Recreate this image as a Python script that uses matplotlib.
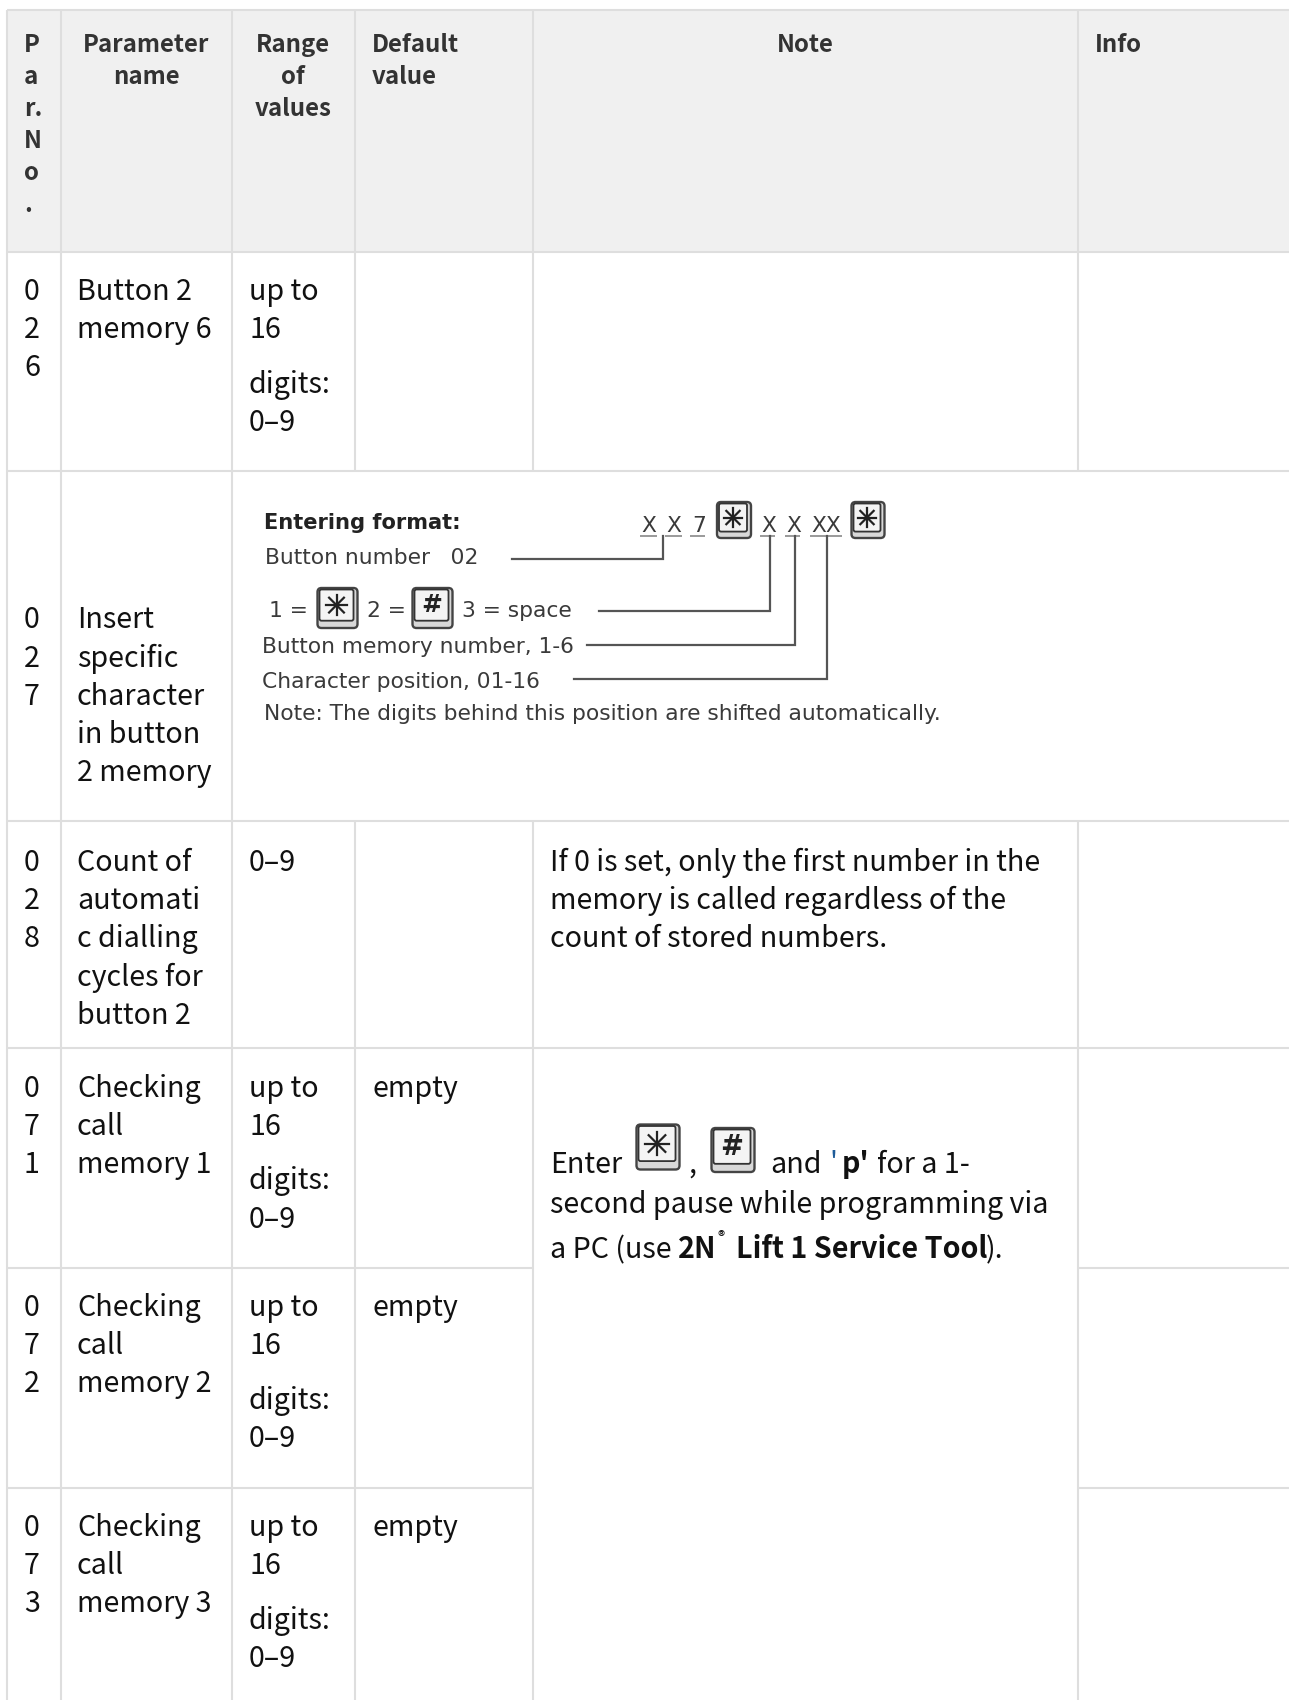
import matplotlib
matplotlib.use("Agg")
import matplotlib.pyplot as plt
from matplotlib.patches import FancyBboxPatch, Rectangle

BODY_FONT = ["Noto Sans CJK JP", "DejaVu Sans"]
IMG_FONT = ["DejaVu Sans"]
GRID = "#dedede"
HEAD_BG = "#f0f0f0"
HEAD_TXT = "#333333"
BODY_TXT = "#111111"
IMG_TXT = "#3a3a3a"
BODY_SIZE = 20.65
HEAD_SIZE = 17.3

# header cells
header_par = ["P", "a", "r.", "N", "o", "."]
header_name = ["Parameter", "name"]
header_range = ["Range", "of", "values"]
header_default = ["Default", "value"]
header_note = ["Note"]
header_info = ["Info"]

# first column of the rows, broken the way the narrow column breaks it
par_numbers = [["0", "2", "6"], ["0", "2", "7"], ["0", "2", "8"],
               ["0", "7", "1"], ["0", "7", "2"], ["0", "7", "3"]]
par_names = [["Button 2", "memory 6"],
             ["Insert", "specific", "character", "in button", "2 memory"],
             ["Count of", "automati", "c dialling", "cycles for", "button 2"],
             ["Checking", "call", "memory 1"],
             ["Checking", "call", "memory 2"],
             ["Checking", "call", "memory 3"]]
range_top = [["up to", "16"], [], ["0–9"], ["up to", "16"], ["up to", "16"], ["up to", "16"]]
range_bottom = [["digits:", "0–9"], [], [], ["digits:", "0–9"], ["digits:", "0–9"], ["digits:", "0–9"]]
default_values = ["", "", "", "empty", "empty", "empty"]
note_028 = ["If 0 is set, only the first number in the",
            "memory is called regardless of the",
            "count of stored numbers."]

# row layout
row_edges = [10, 251.5, 471, 821, 1048, 1268, 1488, 1700]
row_first_base = [300, 628.5, 871, 1097, 1316, 1536]
col_edges = [7, 60.5, 232, 354.5, 533, 1077.5, 1289]
col_text_x = [24, 77, 249, 372, 550, 1095]


def txt(ax, x, y, s, size=BODY_SIZE, color=BODY_TXT, weight="normal", ha="left", fam=BODY_FONT):
    ax.text(x, y, s, fontsize=size, color=color, fontweight=weight, ha=ha, va="baseline", family=fam)


def hline(ax, x0, x1, y, color=GRID, lw=1.5):
    ax.plot([x0, x1], [y, y], color=color, lw=lw, solid_capstyle="butt")


def vline(ax, x, y0, y1, color=GRID, lw=1.5):
    ax.plot([x, x], [y0, y1], color=color, lw=lw, solid_capstyle="butt")


def draw_key(ax, cx, cy, w, h, glyph):
    # keypad button picture: shadow body, inner face, glyph
    ax.add_patch(FancyBboxPatch((cx - w / 2, cy - h / 2), w, h, boxstyle="round,pad=0,rounding_size=4",
                                fc="#d8d8d8", ec="#444444", lw=1.7))
    fh = h * 0.78
    ax.add_patch(FancyBboxPatch((cx - w / 2 + 2, cy - h / 2 + 1.5), w - 6, fh, boxstyle="round,pad=0,rounding_size=2",
                                fc="#f4f4f4", ec="#333333", lw=1.3))
    gx = cx - 1
    gy = cy - h / 2 + 1.5 + fh / 2
    r = min(w, fh) * 0.33
    if glyph == "*":
        lw = 1.6
        ax.plot([gx - r, gx + r], [gy, gy], color="#222222", lw=lw)
        ax.plot([gx, gx], [gy - r, gy + r], color="#222222", lw=lw)
        ax.plot([gx - r * .72, gx + r * .72], [gy - r * .72, gy + r * .72], color="#222222", lw=lw)
        ax.plot([gx - r * .72, gx + r * .72], [gy + r * .72, gy - r * .72], color="#222222", lw=lw)
    else:
        ax.text(gx, gy, "#", fontsize=h * 0.45, fontweight="bold", color="#222222", ha="center", va="center",
                family="DejaVu Sans")


def draw_format_picture(ax):
    # the scanned "Entering format" picture inside row 027
    size = 15.7
    txt(ax, 264, 529, "Entering format:", size=15.1, color="#222222", weight="bold", fam=IMG_FONT)
    for x, s in [(641, "X"), (666, "X"), (692, "7"), (761, "X"), (786, "X"), (811, "XX")]:
        txt(ax, x, 532, s, size=size, color=IMG_TXT, fam=IMG_FONT)
    for x0, x1 in [(640, 657), (665, 682), (690, 705), (760, 775), (785, 800), (810, 842)]:
        hline(ax, x0, x1, 536, color="#9a9a9a", lw=1.4)
    draw_key(ax, 734, 520, 34, 36, "*")
    draw_key(ax, 868, 520, 33, 36, "*")
    txt(ax, 265, 564, "Button number   02", size=size, color=IMG_TXT, fam=IMG_FONT)
    txt(ax, 269, 617, "1 =", size=size, color=IMG_TXT, fam=IMG_FONT)
    draw_key(ax, 337.5, 608, 40, 40, "*")
    txt(ax, 367, 617, "2 =", size=size, color=IMG_TXT, fam=IMG_FONT)
    draw_key(ax, 432.5, 608, 40, 40, "#")
    txt(ax, 462, 617, "3 = space", size=size, color=IMG_TXT, fam=IMG_FONT)
    txt(ax, 262.5, 653, "Button memory number, 1-6", size=size, color=IMG_TXT, fam=IMG_FONT)
    txt(ax, 262.5, 688, "Character position, 01-16", size=size, color=IMG_TXT, fam=IMG_FONT)
    txt(ax, 264, 720, "Note: The digits behind this position are shifted automatically.", size=size, color=IMG_TXT,
        fam=IMG_FONT)
    leaders = [(512, 559, 662.5), (599, 611, 769.5), (587, 645, 795), (574, 679, 827)]
    for x0, y, x1 in leaders:
        ax.plot([x0, x1, x1], [y, y, 536], color="#555555", lw=1.6, solid_joinstyle="miter")


fig = plt.figure(figsize=(12.89, 17.0), dpi=100)
fig.patch.set_facecolor("white")
ax = fig.add_axes([0, 0, 1, 1])
ax.set_xlim(0, 1289)
ax.set_ylim(1700, 0)
ax.axis("off")

# header background
ax.add_patch(Rectangle((col_edges[0], row_edges[0]), 1289 - col_edges[0], row_edges[1] - row_edges[0],
                       fc=HEAD_BG, ec="none"))

# grid, with the merged cells left open
for y in row_edges[:5]:
    hline(ax, col_edges[0], 1289, y)
for y in row_edges[5:7]:
    hline(ax, col_edges[0], col_edges[4], y)
    hline(ax, col_edges[5], 1289, y)
for x in col_edges[:3]:
    vline(ax, x, row_edges[0], 1700)
for x in col_edges[3:6]:
    vline(ax, x, row_edges[0], row_edges[2])
    vline(ax, x, row_edges[3], 1700)

# header text
for i, s in enumerate(header_par):
    txt(ax, col_text_x[0], 52 + 32 * i, s, size=HEAD_SIZE, color=HEAD_TXT, weight="bold")
for i, s in enumerate(header_name):
    txt(ax, 146, 52 + 32 * i, s, size=HEAD_SIZE, color=HEAD_TXT, weight="bold", ha="center")
for i, s in enumerate(header_range):
    txt(ax, 293, 52 + 32 * i, s, size=HEAD_SIZE, color=HEAD_TXT, weight="bold", ha="center")
for i, s in enumerate(header_default):
    txt(ax, col_text_x[3], 52 + 32 * i, s, size=HEAD_SIZE, color=HEAD_TXT, weight="bold")
txt(ax, 805, 52, header_note[0], size=HEAD_SIZE, color=HEAD_TXT, weight="bold", ha="center")
txt(ax, col_text_x[5], 52, header_info[0], size=HEAD_SIZE, color=HEAD_TXT, weight="bold")

# body rows
LINE = 38.2
for r, base in enumerate(row_first_base):
    for i, s in enumerate(par_numbers[r]):
        txt(ax, col_text_x[0], base + LINE * i, s)
    for i, s in enumerate(par_names[r]):
        txt(ax, col_text_x[1], base + LINE * i, s)
    for i, s in enumerate(range_top[r]):
        txt(ax, col_text_x[2], base + LINE * i, s)
    for i, s in enumerate(range_bottom[r]):
        txt(ax, col_text_x[2], base + 92.5 + LINE * i, s)
    if default_values[r]:
        txt(ax, col_text_x[3], base, default_values[r])

for i, s in enumerate(note_028):
    txt(ax, col_text_x[4], row_first_base[2] + LINE * i, s)

# merged note of rows 071-073
txt(ax, 550, 1173, "Enter")
draw_key(ax, 658, 1147, 43, 45, "*")
txt(ax, 688, 1173, ",")
draw_key(ax, 733, 1150, 43, 44, "#")
txt(ax, 770, 1173, "and")
txt(ax, 829, 1173, "'", color="#1f5c99")
txt(ax, 842, 1173, "p'", weight="bold")
txt(ax, 877, 1173, "for a 1-")
txt(ax, 550, 1213, "second pause while programming via")
txt(ax, 550, 1258, "a PC (use")
txt(ax, 678, 1258, "2N", weight="bold")
txt(ax, 717, 1241, "®", size=10, weight="bold")
txt(ax, 736, 1258, "Lift 1 Service Tool", weight="bold")
txt(ax, 986, 1258, ").")

draw_format_picture(ax)

fig.savefig("out.png", dpi=100, facecolor="white")
